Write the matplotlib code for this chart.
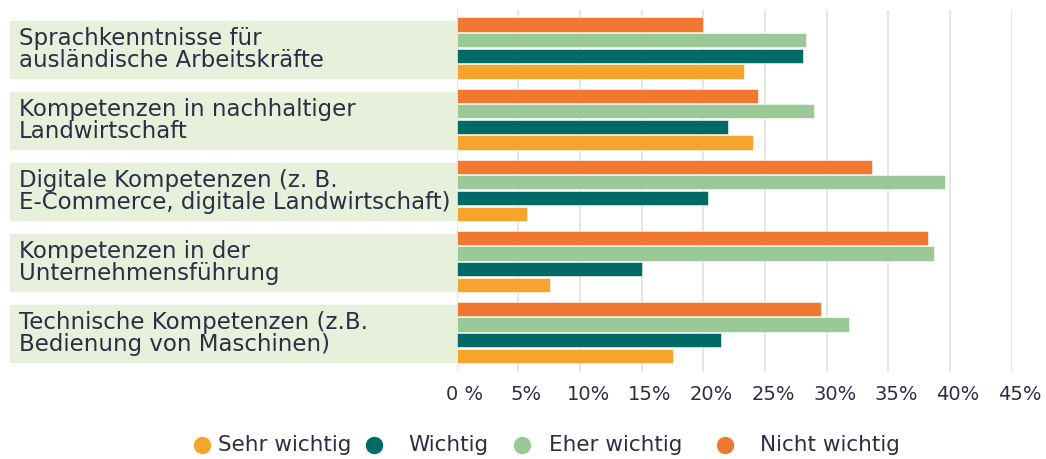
import numpy as np
import matplotlib
matplotlib.use("Agg")
import matplotlib.pyplot as plt
from matplotlib.patches import Rectangle
from matplotlib.lines import Line2D
import matplotlib.transforms as mtransforms

# --------------------------- Daten ---------------------------
kategorien = [
    "Sprachkenntnisse für\nausländische Arbeitskräfte",
    "Kompetenzen in nachhaltiger\nLandwirtschaft",
    "Digitale Kompetenzen (z. B.\nE-Commerce, digitale Landwirtschaft)",
    "Kompetenzen in der\nUnternehmensführung",
    "Technische Kompetenzen (z.B.\nBedienung von Maschinen)",
]
serien = ["Sehr wichtig", "Wichtig", "Eher wichtig", "Nicht wichtig"]
sehr_wichtig = [23.3, 24.0, 5.7, 7.6, 17.5]
wichtig = [28.1, 22.0, 20.4, 15.0, 21.4]
eher_wichtig = [28.3, 29.0, 39.6, 38.7, 31.8]
nicht_wichtig = [20.0, 24.4, 33.7, 38.2, 29.5]
x_ticks = [0, 5, 10, 15, 20, 25, 30, 35, 40, 45]
x_ticklabels = ["0 %", "5%", "10%", "15%", "20%", "25%", "30%", "35%", "40%", "45%"]

farben = {
    "Sehr wichtig": "#F6A42C",
    "Wichtig": "#006A64",
    "Eher wichtig": "#9BC897",
    "Nicht wichtig": "#F07830",
}
TEXT = "#2B2E45"
BAND = "#E6F0DA"

werte = {
    "Sehr wichtig": sehr_wichtig,
    "Wichtig": wichtig,
    "Eher wichtig": eher_wichtig,
    "Nicht wichtig": nicht_wichtig,
}
# Reihenfolge von oben nach unten innerhalb einer Gruppe
offsets = {"Nicht wichtig": -0.33, "Eher wichtig": -0.11, "Wichtig": 0.11, "Sehr wichtig": 0.33}

plt.rcParams["font.family"] = ["DejaVu Sans"]

fig = plt.figure(figsize=(10.46, 4.59), dpi=100)
W, H = 1046, 459
ax = fig.add_axes([456.7 / W, 1 - 372 / H, (1011.7 - 456.7) / W, (372 - 10) / H])

y = np.arange(len(kategorien))
for s in serien:
    ax.barh(y + offsets[s], werte[s], height=0.2, color=farben[s],
            edgecolor="white", linewidth=0.4, zorder=3)

ax.set_xlim(0, 45)
ax.set_ylim(4.557, -0.534)
ax.set_xticks(x_ticks)
ax.set_xticklabels(x_ticklabels, fontsize=14, color=TEXT)
ax.tick_params(axis="x", length=0, pad=9)
shift = mtransforms.ScaledTranslation(8 / 100, 0, fig.dpi_scale_trans)
for lbl in ax.get_xticklabels():
    lbl.set_transform(lbl.get_transform() + shift)
ax.set_yticks([])
ax.grid(axis="x", color="#E2E2E2", linewidth=1.2, zorder=0)
for sp in ax.spines.values():
    sp.set_visible(False)

# Hintergrundbänder der Kategorien
trans = mtransforms.blended_transform_factory(fig.transFigure, ax.transData)
for i, k in enumerate(kategorien):
    ax.add_patch(Rectangle((10 / W, i + 0.02 - 0.40), (456.7 - 10) / W, 0.80,
                           transform=trans, color=BAND, clip_on=False, zorder=1))
    ax.text(19 / W, i + 0.02, k, transform=trans, fontsize=16.5, color=TEXT,
            va="center", ha="left", linespacing=0.95, zorder=2)

# Legende
marker_x = [201.7, 374, 521.7, 724.5]
text_x = [218, 408, 548.6, 760]
ly = 1 - 445 / H
for s, mx, tx in zip(serien, marker_x, text_x):
    fig.add_artist(Line2D([mx / W], [ly], marker="o", markersize=11.5, color=farben[s],
                          linestyle="none", transform=fig.transFigure))
    fig.text(tx / W, ly, s, fontsize=15.5, color=TEXT, va="center", ha="left")

fig.savefig("out.png", dpi=100)
